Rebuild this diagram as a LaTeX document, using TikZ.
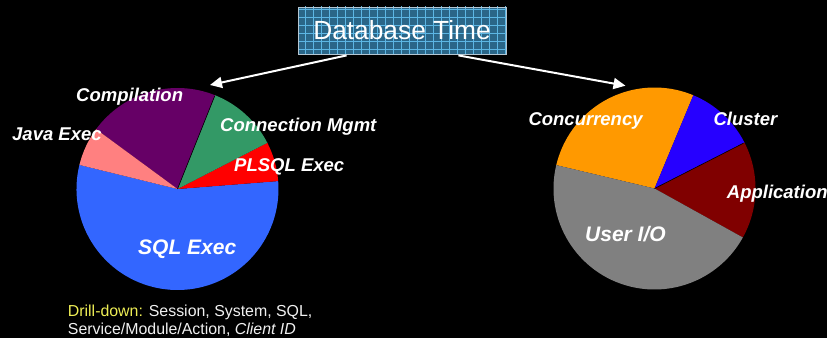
\documentclass[tikz,border=0pt]{standalone}
\usepackage{fontspec}
\setmainfont{Liberation Sans}
\usetikzlibrary{arrows.meta}

\definecolor{sqlblue}{HTML}{3366FF}
\definecolor{plsqlred}{HTML}{FF0000}
\definecolor{conngreen}{HTML}{339966}
\definecolor{comppurple}{HTML}{660066}
\definecolor{javapink}{HTML}{FF8080}
\definecolor{concorange}{HTML}{FF9900}
\definecolor{clusterblue}{HTML}{2600FF}
\definecolor{appred}{HTML}{800000}
\definecolor{iogray}{HTML}{808080}
\definecolor{boxfill}{HTML}{2A6688}
\definecolor{boxgrid}{HTML}{5CB6E4}
\definecolor{boxedge}{HTML}{B4C6D2}
\definecolor{drillyellow}{HTML}{EEEE55}

% one pie wedge: centre, start angle, end angle, colour
\newcommand\drawslice[4]{%
  \fill[#4] (#1) -- ++(#2:101pt) arc[start angle=#2, end angle=#3, radius=101pt] -- cycle;}

\begin{document}
\begin{tikzpicture}[x=1pt,y=1pt,
  slicelabel/.style={text=white, inner sep=0pt, anchor=base west,
    font=\fontsize{18.5}{20}\selectfont\bfseries\itshape},
  biglabel/.style={slicelabel, font=\fontsize{21}{23}\selectfont\bfseries\itshape},
  notetext/.style={text=white!94!black, inner sep=0pt, anchor=base west,
    font=\fontsize{15.9}{18}\selectfont},
  titlebox/.style={draw=boxedge, line width=0.8pt,
    minimum width=208pt, minimum height=47pt, inner sep=0pt,
    text=white, font=\fontsize{26.3}{28}\selectfont},
  pointer/.style={draw=white, line width=2pt,
    -{Triangle[length=12pt,width=11pt]}},
  seam/.style={black, line width=0.6pt}]

\fill[black] (0,0) rectangle (827,338);
\useasboundingbox (0,0) rectangle (827,338);

% ---- Database Time box: tinted fill with a fine light grid ----
\fill[boxfill] (298,284) rectangle (506,331);
\begin{scope}
  \clip (298,284) rectangle (506,331);
  \draw[boxgrid, line width=0.6pt, shift={(1.3,0.7)}] (290,280) grid[step=8pt] (512,336);
\end{scope}
\node[titlebox] (dbt) at (402,307.5) {Database Time};

% ---- left pie ----
\coordinate (lc) at (177.5,149);
\drawslice{lc}{166.2}{364.5}{sqlblue}
\drawslice{lc}{4.5}{27.2}{plsqlred}
\drawslice{lc}{27.2}{68.2}{conngreen}
\drawslice{lc}{68.2}{143.7}{comppurple}
\drawslice{lc}{143.7}{166.2}{javapink}
\draw[seam] (lc) -- ++(68.2:100pt);

% ---- right pie ----
\coordinate (rc) at (654.5,149.5);
\drawslice{rc}{67.4}{166.6}{concorange}
\drawslice{rc}{27}{67.4}{clusterblue}
\drawslice{rc}{-29}{27}{appred}
\drawslice{rc}{166.6}{331}{iogray}
\draw[seam] (rc) -- ++(27:100pt);

% ---- pointers from the box to the pies ----
\coordinate (ltip) at (210,253);
\coordinate (rtip) at (625.5,252.3);
\draw[pointer] ([xshift=49pt,yshift=-1pt]dbt.south west) -- (ltip);
\draw[pointer] ([xshift=-48pt,yshift=-1pt]dbt.south east) -- (rtip);

% ---- wedge labels ----
\node[slicelabel] (lcomp) at (76,236.5) {Compilation};
\node[slicelabel] (ljava) at (12,197) {Java Exec};
\node[slicelabel] (lconn) at (220,206.5) {Connection Mgmt};
\node[slicelabel] (lplsql) at (234,167) {PLSQL Exec};
\node[biglabel] (lsql) at (138,84) {SQL Exec};

\node[slicelabel] (rconc) at (528.3,212.5) {Concurrency};
\node[slicelabel] (rclus) at (713.3,212.5) {Cluster};
\node[slicelabel] (rapp) at (726.7,139.8) {Application};
\node[biglabel] (rio) at (585,97) {User I/O};

% ---- drill-down note ----
\node[notetext] (note1) at (67.7,22) {\textcolor{drillyellow}{Drill-down:} Session, System, SQL,};
\node[notetext] (note2) at (67.7,3.7) {Service/Module/Action, \textit{Client ID}};
\end{tikzpicture}
\end{document}
